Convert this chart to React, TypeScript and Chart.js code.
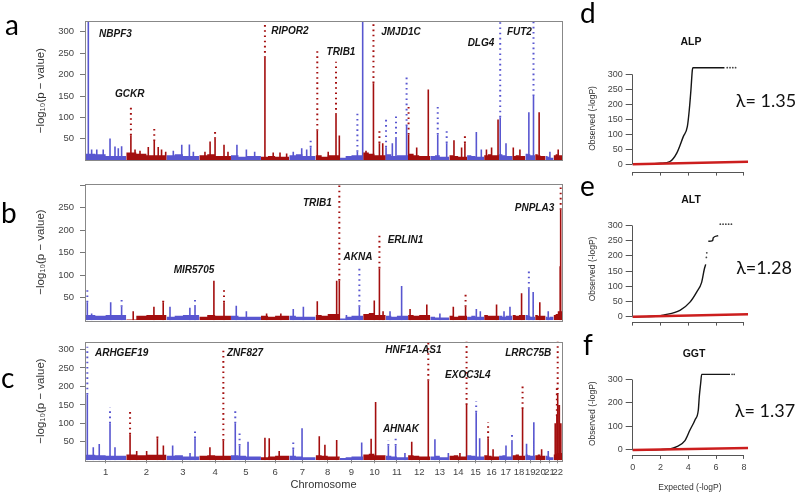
import React, { useEffect, useRef } from "react";
import { Chart, registerables } from "chart.js";
Chart.register(...registerables);

// ---------------- data ----------------
const CHR_LABELS = ["1","2","3","4","5","6","7","8","9","10","11","12","13","14","15","16","17","18","19","20","21","22"];
const CHR_LEN = [249,243,198,191,181,171,159,146,141,136,135,134,115,107,103,90,81,78,59,63,48,51];

// background band heights (4 segments per chromosome)
const BG_A = [[12,15,14,10],[16,18,15,12],[10,12,14,10],[8,12,14,10],[10,12,8,10],[12,8,10,8],[10,12,14,10],[10,12,8,12],[4,6,10,12],[14,18,15,12],[12,14,10,12],[12,15,12,10],[6,10,12,8],[8,12,10,8],[10,12,10,8],[10,12,14,12],[10,14,12,10],[8,10,12,10],[12,15,14,12],[12,14,12,10],[8,10,8,6],[10,12,14,12]];
const BG_B = [[10,12,10,12],[8,2,10,12],[10,8,10,12],[10,8,12,10],[8,10,8,8],[8,10,8,10],[8,10,8,8],[10,12,10,14],[6,4,8,10],[10,14,16,12],[8,10,8,10],[10,12,10,12],[6,8,6,6],[8,10,8,10],[6,8,10,8],[10,12,10,10],[8,10,8,10],[10,12,10,12],[8,12,10,8],[10,12,10,10],[6,8,6,8],[10,12,14,20]];
const BG_C = [[12,15,14,12],[14,16,14,15],[10,12,14,10],[10,12,14,12],[12,14,12,10],[10,8,10,12],[10,12,10,8],[12,14,12,10],[4,6,8,10],[12,16,18,14],[10,12,10,8],[12,14,12,10],[8,10,12,8],[10,12,14,10],[12,14,12,10],[12,14,12,10],[10,12,14,10],[12,14,16,12],[14,16,14,12],[12,14,16,12],[10,12,10,8],[14,16,18,20]];

// spikes: [chromosome, offset (Mb), solid top, dotted top (0 = none)]
const SPIKES_A = [
  [1,20,330,0],[1,40,25,0],[1,71,25,0],[1,110,25,0],[1,151,51,0],[1,181,32,0],[1,201,28,0],[1,221,33,0],
  [2,28,58,128],[2,53,25,0],[2,83,22,0],[2,133,31,0],[2,169,45,80],[2,193,31,0],[2,213,25,0],[2,238,20,0],
  [3,41,22,0],[3,92,36,0],[3,138,37,0],[3,162,20,0],
  [4,34,20,0],[4,65,44,0],[4,95,50,73],[4,149,36,0],[4,173,20,0],
  [5,36,36,0],[5,93,25,0],[5,143,20,0],
  [6,24,239,330],[6,74,18,0],[6,115,18,0],[6,155,16,0],
  [7,24,20,0],[7,75,28,0],[7,105,25,0],[7,129,30,46],
  [8,10,69,262],[8,76,20,0],[8,123,106,230],[8,143,58,0],
  [9,51,10,0],[9,106,20,110],[9,138,330,0],
  [10,17,22,0],[10,62,180,330],[10,98,40,69],[10,118,40,0],
  [11,2,30,102],[11,40,40,0],[11,62,50,105],[11,126,80,195],
  [12,3,60,128],[12,52,30,0],[12,122,165,0],
  [13,45,60,125],[13,99,40,73],
  [14,28,47,0],[14,74,30,0],[14,94,40,58],
  [15,56,66,0],[15,86,25,0],
  [16,14,25,0],[16,45,30,0],[16,84,95,0],
  [17,7,100,330],[17,42,40,0],
  [18,5,30,0],[18,45,25,0],
  [19,21,112,0],[19,49,150,330],
  [20,24,112,0],
  [21,26,20,0],
  [22,28,25,0],
];
const SPIKES_B = [
  [1,14,40,68],[1,40,15,0],[1,155,40,0],[1,221,30,53],
  [2,42,20,0],[2,167,30,0],[2,223,40,48],
  [3,21,30,0],[3,141,28,0],[3,172,30,51],
  [4,88,88,0],[4,149,40,70],
  [5,32,32,0],[5,93,20,0],
  [6,34,15,0],[6,120,15,0],
  [7,24,25,0],[7,85,30,0],
  [8,10,42,0],[8,127,88,0],[8,143,88,300],
  [9,40,12,0],[9,118,30,122],
  [10,67,44,0],[10,98,115,192],[10,120,20,0],
  [11,26,20,0],[11,96,76,0],
  [12,12,25,0],[12,113,35,0],
  [13,58,15,0],
  [14,24,30,0],[14,98,30,58],
  [15,56,25,0],[15,80,20,0],
  [16,75,35,0],
  [17,30,20,0],[17,66,30,0],
  [18,55,60,0],
  [19,21,70,108],[19,47,63,0],
  [20,28,40,0],
  [21,16,20,0],
  [22,40,120,0],[22,43,245,300],
];
const SPIKES_C = [
  [1,14,178,307],[1,50,35,0],[1,86,44,0],[1,151,100,143],[1,181,35,0],
  [2,23,70,132],[2,63,25,0],[2,123,25,0],[2,188,60,72],[2,224,40,0],
  [3,37,40,0],[3,142,20,0],[3,172,60,78],
  [4,64,35,0],[4,145,53,303],
  [5,26,100,139],[5,52,40,74],[5,103,50,0],
  [6,24,61,0],[6,50,60,0],[6,110,25,0],
  [7,24,30,48],[7,77,87,0],
  [8,22,65,0],[8,56,42,0],[8,127,55,0],
  [9,132,48,0],
  [10,48,58,0],[10,75,158,0],
  [11,16,40,55],[11,60,40,61],[11,116,20,0],
  [12,22,50,0],[12,122,215,325],
  [13,28,57,0],[13,109,20,0],
  [14,64,20,0],[14,104,150,325],
  [15,55,130,160],[15,76,60,0],
  [16,24,60,104],[16,54,30,0],
  [17,42,40,0],[17,78,50,70],
  [18,61,139,208],
  [19,7,45,0],[19,51,103,0],
  [20,39,30,0],
  [21,16,25,0],
  [22,10,100,0],[22,20,120,200],[22,25,178,325],[22,35,150,0],[22,44,100,0],
];

// gene labels: [name, genome position (Mb), -log10 p]
const GENES_A = [["NBPF3",184,294],["GCKR",270,154],["RIPOR2",1237,301],["TRIB1",1545,252],["JMJD1C",1907,299],["DLG4",2390,272],["FUT2",2622,299]];
const GENES_B = [["TRIB1",1403,260],["AKNA",1648,139],["MIR5705",658,112],["ERLIN1",1934,178],["PNPLA3",2713,248]];
const GENES_C = [["ARHGEF19",221,290],["ZNF827",966,290],["HNF1A-AS1",1982,299],["EXOC3L4",2311,230],["AHNAK",1907,83],["LRRC75B",2675,291]];

const Y_TICKS = [50,100,150,200,250,300];
const Y_TICK_LABELS_A = ["50","100","150","200","250","300"];
const Y_TICK_LABELS_B = ["50","100","150","200","250",""];
const Y_TICK_LABELS_C = ["50","100","150","200","250","300"];

// QQ plots
const QQ_TICKS_X = [0,2,4,6,8];
const QQ_TICKS_Y = [0,50,100,150,200,250,300];
const ALP_EXP = [0,1,2,2.68,3.17,3.64,3.93,4.07,4.19,4.29,4.33,5.5,6.6];
const ALP_OBS = [0,0.5,3,9,37,92,125,181,248,314,322,322,322];
const ALP_TAIL_EXP = [6.8,7.0,7.2,7.4];
const ALP_TAIL_OBS = [322,322,322,322];
const ALT_EXP = [0,1,2,2.2,3.4,4.12,4.6,4.96,5.15,5.25];
const ALT_OBS = [0,0.5,3,5,21,48,81,113,156,172];
const ALT_EXP2 = [5.44,5.75,5.8,6.15];
const ALT_OBS2 = [248,250,260,266];
const ALT_TAIL_EXP = [5.3,5.33,6.3,6.5,6.7,6.9,7.1];
const ALT_TAIL_OBS = [195,210,304,304,304,304,304];
const GGT_EXP = [0,1,2,2.68,3.17,3.76,4.12,4.48,4.72,4.79,4.89,4.96,6.0,7.0];
const GGT_OBS = [0,0.3,1.5,4,14,40,85,128,170,227,284,322,322,322];
const GGT_TAIL_EXP = [7.15,7.3];
const GGT_TAIL_OBS = [322,322];
const NULL_LINE_EXP = [0,8.3];

// ---------------- helpers ----------------
const BLUE = "rgb(88,86,208)";
const RED = "rgb(163,14,14)";
const CHR_START: number[] = [];
CHR_LEN.reduce((acc, l, i) => { CHR_START[i] = acc; return acc + l; }, 0);
const GENOME_END = CHR_LEN.reduce((a, b) => a + b, 0);
const CHR_MID = CHR_LEN.map((l, i) => CHR_START[i] + l / 2);
const FONT = "'Liberation Sans', Arial, sans-serif";
const CAL = "Lato, 'Open Sans', sans-serif";

type Pt = { x: number; y: number | null };

function manhattanDatasets(spikes: number[][], bg: number[][]) {
  const bgPts: Pt[][] = [[], []];
  bg.forEach((row, i) => {
    const c = i % 2;
    const s = CHR_START[i], L = CHR_LEN[i];
    row.forEach((h, k) => bgPts[c].push({ x: s + (k * L) / row.length, y: h }));
    bgPts[c].push({ x: s + L, y: row[row.length - 1] });
    bgPts[c].push({ x: s + L, y: null });
  });
  const solid: Pt[][] = [[], []];
  const dots: Pt[][] = [[], []];
  spikes.forEach(([chr, off, top, dot]) => {
    const c = (chr - 1) % 2;
    const x = CHR_START[chr - 1] + off;
    solid[c].push({ x, y: 0 }, { x, y: top }, { x, y: null });
    if (dot > 0) dots[c].push({ x, y: top }, { x, y: dot }, { x, y: null });
  });
  const cols = [BLUE, RED];
  const ds: any[] = [];
  [0, 1].forEach((c) => {
    ds.push({ data: bgPts[c], borderWidth: 0, borderColor: cols[c], backgroundColor: cols[c], fill: "origin", stepped: "after", pointRadius: 0 });
  });
  [0, 1].forEach((c) => {
    ds.push({ data: solid[c], borderWidth: 1.6, borderColor: cols[c], pointRadius: 0, fill: false });
    ds.push({ data: dots[c], borderWidth: 2, borderColor: cols[c], borderDash: [1.6, 3.6], pointRadius: 0, fill: false });
  });
  return ds;
}

const framePlugin = {
  id: "frame",
  afterDatasetsDraw(chart: any) {
    const { ctx, chartArea: a } = chart;
    ctx.save();
    ctx.strokeStyle = "#888";
    ctx.lineWidth = 1;
    ctx.strokeRect(Math.round(a.left) + 0.5, Math.round(a.top) + 0.5, Math.round(a.right - a.left), Math.round(a.bottom - a.top));
    ctx.restore();
  },
};

const genePlugin = {
  id: "genes",
  afterDraw(chart: any, _args: any, opts: any) {
    const { ctx, scales } = chart;
    ctx.save();
    ctx.font = `italic bold 10px ${FONT}`;
    ctx.fillStyle = "#151515";
    ctx.textAlign = "center";
    ctx.textBaseline = "middle";
    (opts.genes || []).forEach((g: any[]) => {
      ctx.fillText(g[0], scales.x.getPixelForValue(g[1]), scales.y.getPixelForValue(g[2]));
    });
    ctx.restore();
  },
};

function manhattanConfig(spikes: number[][], bg: number[][], genes: any[], yMax: number, tickLabels: string[], pad: any, showX: boolean, xAxisH: number) {
  return {
    type: "line",
    data: { datasets: manhattanDatasets(spikes, bg) },
    plugins: [framePlugin, genePlugin],
    options: {
      animation: false,
      responsive: false,
      events: [],
      layout: { padding: pad },
      plugins: { legend: { display: false }, tooltip: { enabled: false }, genes: { genes } },
      elements: { point: { radius: 0 }, line: { tension: 0 } },
      scales: {
        x: {
          type: "linear",
          min: 0,
          max: GENOME_END,
          display: showX,
          afterBuildTicks: (s: any) => { s.ticks = CHR_MID.map((v) => ({ value: v })); },
          afterFit: (s: any) => { s.height = xAxisH; },
          ticks: {
            autoSkip: false,
            maxRotation: 0,
            padding: 3,
            color: "#444",
            font: { family: FONT, size: 9.5 },
            callback: (_v: any, i: number) => CHR_LABELS[i],
          },
          grid: { display: true, drawOnChartArea: false, drawTicks: true, tickLength: 3, color: "#888" },
          border: { display: false },
          title: { display: true, text: "Chromosome", color: "#333", font: { family: FONT, size: 11 }, padding: { top: 0, bottom: 4 } },
        },
        y: {
          min: 0,
          max: yMax,
          afterFit: (s: any) => { s.width = 85; },
          afterBuildTicks: (s: any) => { s.ticks = Y_TICKS.map((v) => ({ value: v })); },
          ticks: {
            padding: 6,
            color: "#444",
            font: { family: FONT, size: 9.5 },
            callback: (_v: any, i: number) => tickLabels[i],
          },
          grid: { display: true, drawOnChartArea: false, drawTicks: true, tickLength: 5, color: "#777" },
          border: { display: false },
          title: { display: true, text: "\u2212log\u2081\u2080(p \u2212 value)", color: "#333", font: { family: FONT, size: 11.5 }, padding: { top: 34, bottom: 0 } },
        },
      },
    },
  };
}

const rAxesPlugin = {
  id: "raxes",
  afterDraw(chart: any) {
    const { ctx, scales, chartArea } = chart;
    ctx.save();
    ctx.strokeStyle = "#555";
    ctx.lineWidth = 1;
    const xl = Math.round(chartArea.left) + 0.5;
    const yb = Math.round(chartArea.bottom) + 0.5;
    ctx.beginPath();
    ctx.moveTo(xl, scales.y.getPixelForValue(QQ_TICKS_Y[0]));
    ctx.lineTo(xl, scales.y.getPixelForValue(QQ_TICKS_Y[QQ_TICKS_Y.length - 1]));
    ctx.moveTo(scales.x.getPixelForValue(QQ_TICKS_X[0]), yb);
    ctx.lineTo(scales.x.getPixelForValue(QQ_TICKS_X[QQ_TICKS_X.length - 1]), yb);
    ctx.stroke();
    ctx.restore();
  },
};

function zip(xs: number[], ys: number[]) { return xs.map((x, i) => ({ x, y: ys[i] })); }

function qqConfig(segs: { x: number[]; y: number[] }[], tail: { x: number[]; y: number[] }, yMin: number, padTop: number, xAxisH: number, showXLabels: boolean) {
  const ds: any[] = [
    { data: zip(NULL_LINE_EXP, NULL_LINE_EXP), borderColor: "rgb(204,30,30)", borderWidth: 2.6, pointRadius: 0 },
    ...segs.map((s) => ({ data: zip(s.x, s.y), borderColor: "#151515", borderWidth: 1.4, pointRadius: 0, cubicInterpolationMode: "monotone" })),
    { data: zip(tail.x, tail.y), showLine: false, pointRadius: 0.9, pointBackgroundColor: "#444", pointBorderWidth: 0 },
  ];
  return {
    type: "line",
    data: { datasets: ds },
    plugins: [rAxesPlugin],
    options: {
      animation: false,
      responsive: false,
      events: [],
      layout: { padding: { top: padTop, right: 51.9, left: 0, bottom: 0 } },
      plugins: { legend: { display: false }, tooltip: { enabled: false } },
      scales: {
        x: {
          type: "linear",
          min: -0.07,
          max: 8.3,
          afterBuildTicks: (s: any) => { s.ticks = QQ_TICKS_X.map((v) => ({ value: v })); },
          afterFit: (s: any) => { s.height = xAxisH; },
          ticks: { display: showXLabels, padding: 3, maxRotation: 0, autoSkip: false, color: "#444", font: { family: FONT, size: 9 } },
          grid: { display: true, drawOnChartArea: false, drawTicks: true, tickLength: 4, color: "#555" },
          border: { display: false },
          title: { display: showXLabels, text: "Expected (-logP)", color: "#333", font: { family: FONT, size: 8.5 }, padding: { top: 0, bottom: 3 } },
        },
        y: {
          min: yMin,
          max: 330,
          afterBuildTicks: (s: any) => { s.ticks = QQ_TICKS_Y.map((v) => ({ value: v })); },
          afterFit: (s: any) => { s.width = 51.7; },
          ticks: { padding: 3, color: "#444", font: { family: FONT, size: 9 } },
          grid: { display: true, drawOnChartArea: false, drawTicks: true, tickLength: 6, color: "#555" },
          border: { display: false },
          title: { display: true, text: "Observed (-logP)", color: "#333", font: { family: FONT, size: 8.5 }, padding: { top: 8, bottom: 0 } },
        },
      },
    },
  };
}

function ChartBox({ left, top, width, height, make }: { left: number; top: number; width: number; height: number; make: () => any }) {
  const ref = useRef<HTMLCanvasElement>(null);
  useEffect(() => {
    const chart = new Chart(ref.current as HTMLCanvasElement, make());
    return () => chart.destroy();
  }, []);
  return <canvas ref={ref} width={width} height={height} style={{ position: "absolute", left, top, width, height }} />;
}

function Txt({ x, y, size, bold, family, children }: any) {
  return (
    <div style={{ position: "absolute", left: x, top: y, transform: "translate(-50%,-50%)", fontSize: size, lineHeight: 1, fontWeight: bold ? 700 : 400, fontFamily: family || FONT, color: "#111", whiteSpace: "nowrap" }}>
      {children}
    </div>
  );
}

function Letter({ x, baseline, children }: any) {
  return (
    <div style={{ position: "absolute", left: x, top: baseline - 25, fontSize: 28, lineHeight: "28px", fontFamily: CAL, color: "#000" }}>
      {children}
    </div>
  );
}

export default function App() {
  return (
    <div style={{ position: "fixed", left: 0, top: 0, width: 800, height: 496, background: "#fff", overflow: "hidden" }}>
      <ChartBox left={0} top={0} width={570} height={172} make={() => manhattanConfig(SPIKES_A, BG_A, GENES_A, 325, Y_TICK_LABELS_A, { top: 21, right: 8, bottom: 4, left: 0 }, false, 0)} />
      <ChartBox left={0} top={172} width={570} height={160} make={() => manhattanConfig(SPIKES_B, BG_B, GENES_B, 303, Y_TICK_LABELS_B, { top: 6, right: 8, bottom: 5.5, left: 0 }, false, 0)} />
      <ChartBox left={0} top={330} width={570} height={166} make={() => manhattanConfig(SPIKES_C, BG_C, GENES_C, 321, Y_TICK_LABELS_C, { top: 6, right: 8, bottom: 0, left: 0 }, true, 35.7)} />

      <ChartBox left={580} top={0} width={220} height={180} make={() => qqConfig([{ x: ALP_EXP, y: ALP_OBS }], { x: ALP_TAIL_EXP, y: ALP_TAIL_OBS }, -24.7, 65.3, 8.2, false)} />
      <ChartBox left={580} top={180} width={220} height={150} make={() => qqConfig([{ x: ALT_EXP, y: ALT_OBS }, { x: ALT_EXP2, y: ALT_OBS2 }], { x: ALT_TAIL_EXP, y: ALT_TAIL_OBS }, -16, 36.3, 6.8, false)} />
      <ChartBox left={580} top={330} width={220} height={166} make={() => qqConfig([{ x: GGT_EXP, y: GGT_OBS }], { x: GGT_TAIL_EXP, y: GGT_TAIL_OBS }, -21, 42.45, 41.1, true)} />

      <Letter x={5} baseline={35}>a</Letter>
      <Letter x={1} baseline={223}>b</Letter>
      <Letter x={1} baseline={388}>c</Letter>
      <Letter x={580} baseline={23}>d</Letter>
      <Letter x={580} baseline={196}>e</Letter>
      <Letter x={583} baseline={355}>f</Letter>

      <Txt x={691} y={41} size={10.5} bold>ALP</Txt>
      <Txt x={691} y={199} size={10.5} bold>ALT</Txt>
      <Txt x={694} y={353} size={10.5} bold>GGT</Txt>

      <Txt x={766} y={100} size={18} family={CAL}>λ= 1.35</Txt>
      <Txt x={764} y={267} size={18} family={CAL}>λ=1.28</Txt>
      <Txt x={765} y={410} size={18} family={CAL}>λ= 1.37</Txt>
    </div>
  );
}
